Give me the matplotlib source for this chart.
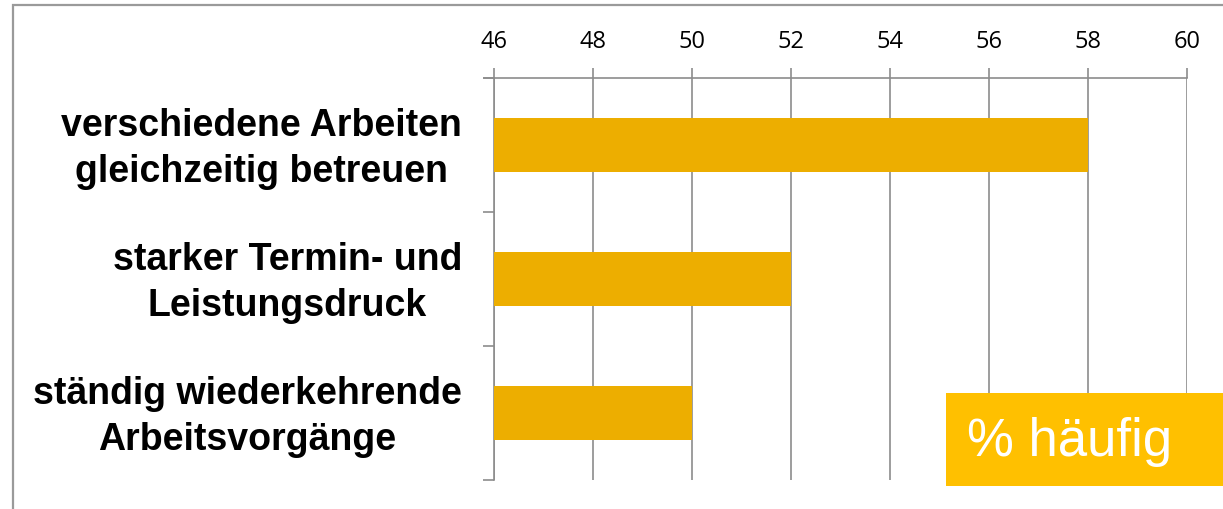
import matplotlib
matplotlib.use("Agg")
import matplotlib.pyplot as plt
from matplotlib.patches import Rectangle
from matplotlib.transforms import ScaledTranslation

categories = ["verschiedene Arbeiten\ngleichzeitig betreuen",
              "starker Termin- und\nLeistungsdruck",
              "ständig wiederkehrende\nArbeitsvorgänge"]
values = [58, 52, 50]
xticks = [46, 48, 50, 52, 54, 56, 58, 60]

W, H = 1223, 509
fig = plt.figure(figsize=(W / 100, H / 100), dpi=100)
fig.patch.set_facecolor("white")

# outer frame (cut at right/bottom)
fig.patches.append(Rectangle((13 / W, -0.1), 1.2, 1 - 5 / H + 0.1, transform=fig.transFigure,
                             fill=False, edgecolor="#9a9a9a", linewidth=1.6, zorder=0))

ax = fig.add_axes([494 / W, 1 - 480 / H, (1187 - 494) / W, (480 - 78) / H])
grid_c = "#8c8c8c"
ypos = list(range(len(categories)))
ax.barh(ypos, [v - 46 for v in values], left=46, height=0.4, color="#EDAE00", zorder=3)
ax.set_xlim(46, 60)
ax.set_ylim(len(categories) - 0.5, -0.5)
ax.xaxis.set_ticks_position("top")
ax.set_xticks(xticks)
ax.set_xticklabels([str(t) for t in xticks], fontsize=17, family="Open Sans")
ax.tick_params(axis="x", direction="out", length=7, width=1.2, color=grid_c, pad=10)
ax.grid(axis="x", color=grid_c, linewidth=1.2, zorder=0)

ax.set_yticks([-0.5, 0.5, 1.5, 2.5])
ax.set_yticklabels([])
ax.tick_params(axis="y", direction="out", length=8, width=1.2, color=grid_c)

# category labels
trans = ax.get_yaxis_transform() + ScaledTranslation(-32 / 100, -4 / 100, fig.dpi_scale_trans)
for y, lab in zip(ypos, categories):
    ax.text(0, y, lab, transform=trans, ha="right", va="center", fontsize=27,
            fontweight="bold", family="Liberation Sans", multialignment="center",
            linespacing=1.33)

for s in ["right", "bottom"]:
    ax.spines[s].set_visible(False)
for s in ["top", "left"]:
    ax.spines[s].set_color(grid_c)
    ax.spines[s].set_linewidth(1.2)

# extend top spine leftwards with a short tick-like line
ax.plot([-0.014, 0], [1, 1], transform=ax.transAxes, color=grid_c, lw=1.2, clip_on=False)

# label box
fig.patches.append(Rectangle((946 / W, 1 - 486 / H), (W - 946) / W, (486 - 393) / H,
                             transform=fig.transFigure, facecolor="#FFC000",
                             edgecolor="none", zorder=5))
fig.text(967 / W, 1 - 442 / H, "% häufig", color="white", fontsize=38,
         family="Liberation Sans", va="center", ha="left", zorder=6)

fig.savefig("out.png", dpi=100)
